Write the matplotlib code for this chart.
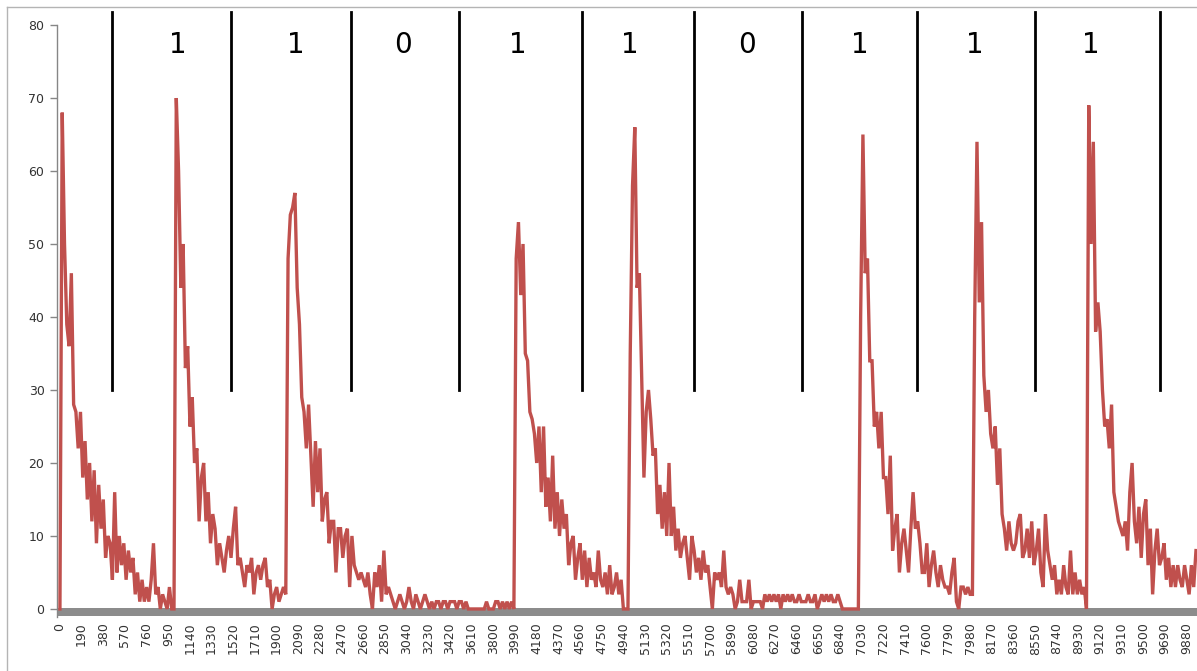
import numpy as np
import matplotlib
matplotlib.use("Agg")
import matplotlib.pyplot as plt
from matplotlib.lines import Line2D

# signal, one sample every 20 units, one list per burst
burst_starts = [0, 1000, 2000, 4000, 5000, 7000, 8000, 9000]
burst_ends = [1000, 2000, 4000, 5000, 7000, 8000, 9000, 9980]

burst_1 = [0, 68, 50, 39, 36, 46, 28, 27, 22, 27,
           18, 23, 15, 20, 12, 19, 9, 17, 11, 15,
           7, 10, 9, 4, 16, 5, 10, 6, 9, 4,
           8, 5, 7, 2, 5, 1, 4, 1, 3, 1,
           4, 9, 2, 3, 0, 2, 1, 0, 3, 0]
burst_2 = [0, 70, 60, 44, 50, 33, 36, 25, 29, 20,
           22, 12, 18, 20, 12, 16, 9, 13, 11, 6,
           9, 7, 5, 8, 10, 7, 11, 14, 6, 7,
           5, 3, 6, 5, 7, 2, 5, 6, 4, 6,
           7, 3, 4, 0, 2, 3, 1, 2, 3, 2]
burst_3 = [48, 54, 55, 57, 44, 39, 29, 27, 22, 28,
           21, 14, 23, 16, 22, 12, 15, 16, 9, 12,
           12, 5, 11, 11, 7, 10, 11, 3, 10, 6,
           5, 4, 5, 4, 3, 5, 2, 0, 5, 3,
           6, 1, 8, 2, 3, 2, 1, 0, 1, 2,
           1, 0, 1, 3, 1, 0, 2, 1, 0, 1,
           2, 1, 0, 1, 0, 1, 1, 0, 1, 1,
           0, 1, 1, 1, 0, 1, 1, 0, 1, 0,
           0, 0, 0, 0, 0, 0, 0, 1, 0, 0,
           0, 1, 1, 0, 1, 0, 1, 0, 1, 0]
burst_4 = [48, 53, 43, 50, 35, 34, 27, 26, 24, 20,
           25, 16, 25, 14, 18, 12, 21, 11, 16, 10,
           15, 11, 13, 6, 9, 10, 4, 7, 9, 4,
           8, 3, 7, 4, 5, 3, 8, 4, 3, 5,
           2, 6, 2, 3, 5, 2, 4, 0, 0, 0]
burst_5 = [35, 58, 66, 44, 46, 32, 18, 27, 30, 26,
           21, 22, 13, 17, 11, 16, 10, 20, 10, 14,
           8, 11, 7, 9, 10, 7, 4, 10, 8, 5,
           7, 4, 8, 5, 6, 3, 0, 5, 4, 5,
           3, 8, 3, 2, 3, 2, 0, 1, 4, 1,
           1, 1, 4, 0, 1, 1, 1, 1, 0, 2,
           1, 2, 1, 2, 1, 2, 0, 2, 1, 2,
           1, 2, 1, 1, 2, 1, 1, 1, 2, 1,
           1, 2, 0, 1, 2, 1, 2, 1, 2, 1,
           1, 2, 1, 0, 0, 0, 0, 0, 0, 0]
burst_6 = [0, 40, 65, 46, 48, 34, 34, 25, 27, 22,
           27, 18, 18, 13, 21, 8, 11, 13, 5, 9,
           11, 8, 5, 11, 16, 11, 12, 9, 5, 5,
           9, 3, 6, 8, 5, 3, 6, 4, 3, 3,
           2, 5, 7, 1, 0, 3, 3, 2, 3, 2]
burst_7 = [2, 40, 64, 42, 53, 32, 27, 30, 24, 22,
           25, 17, 22, 13, 11, 8, 12, 9, 8, 9,
           12, 13, 7, 8, 11, 7, 12, 6, 8, 11,
           5, 3, 13, 8, 6, 4, 6, 2, 4, 2,
           6, 3, 2, 8, 2, 5, 2, 4, 2, 3]
burst_8 = [0, 69, 50, 64, 38, 42, 38, 30, 25, 26,
           22, 28, 16, 14, 12, 11, 10, 12, 8, 16,
           20, 12, 9, 14, 7, 13, 15, 6, 11, 2,
           8, 11, 6, 7, 9, 4, 7, 3, 6, 3,
           6, 4, 3, 6, 4, 2, 6, 3, 8]
bursts = [burst_1, burst_2, burst_3, burst_4, burst_5, burst_6, burst_7, burst_8]

# black separators and the bit written between them
divider_x = [459, 1500, 2549, 3499, 4575, 5563, 6510, 7513, 8545, 9647]
bit_x = [1035, 2070, 3008, 4017, 4999, 6025, 7016, 8025, 9042]
bits = ['1', '1', '0', '1', '1', '0', '1', '1', '1']

tick_labels = np.arange(0, 9881, 190)

xs, ys = [], []
for start, end, vals in zip(burst_starts, burst_ends, bursts):
    xs.append(np.linspace(start, end, len(vals), endpoint=False))
    ys.append(np.array(vals, dtype=float))
x = np.concatenate(xs)
y = np.concatenate(ys)

fig = plt.figure(figsize=(11.97, 6.71), dpi=100)
ax = fig.add_axes([0.0476, 0.0805, 0.9524, 0.8822])

ax.plot(x, y, color='#C0504D', lw=2.4, zorder=3, solid_joinstyle='miter')
ax.axhspan(-1.0, 0.1, color='#8c8c8c', lw=0, zorder=2)

for xv in divider_x:
    ax.plot([xv, xv], [30, 81.8], color='black', lw=2.0, clip_on=False, zorder=4)
for xv, b in zip(bit_x, bits):
    ax.text(xv, 76.2, b, fontsize=20, ha='center', va='baseline', color='black')

ax.set_xlim(-26, 9969)
ax.set_ylim(-1.1, 80)
ax.set_yticks(range(0, 81, 10))
ax.set_xticks(tick_labels)
ax.set_xticklabels([str(t) for t in tick_labels], rotation=90, fontsize=9, color='#333333')
ax.tick_params(axis='x', length=0, pad=4)
ax.tick_params(axis='y', length=5, width=1, color='#868686', labelsize=9,
               labelcolor='#333333', pad=4)

for side in ['top', 'right', 'bottom']:
    ax.spines[side].set_visible(False)
ax.spines['left'].set_color('#868686')
ax.spines['left'].set_linewidth(1)

# outer chart frame
fig.add_artist(Line2D([7 / 1197, 1.0], [1 - 7 / 671, 1 - 7 / 671], color='#b4b4b4', lw=1))
fig.add_artist(Line2D([7 / 1197, 7 / 1197], [0.0, 1 - 7 / 671], color='#b4b4b4', lw=1))

fig.savefig('out.png', dpi=100)
